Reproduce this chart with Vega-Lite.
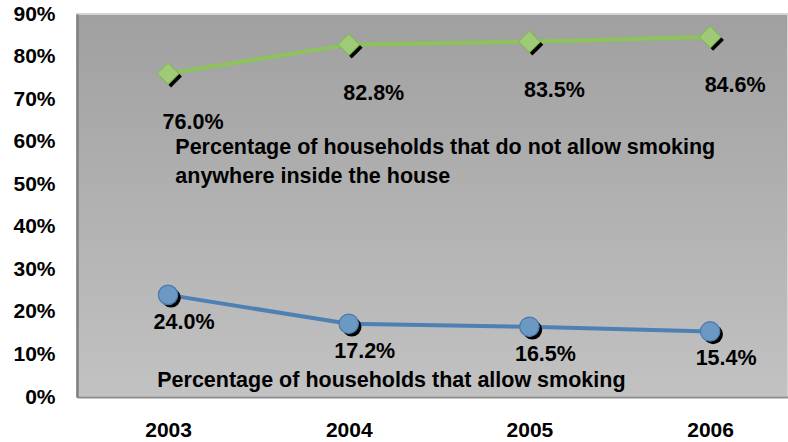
{
  "$schema": "https://vega.github.io/schema/vega-lite/v6.json",
  "width": 711,
  "height": 383,
  "autosize": "none",
  "padding": {"left": 77, "top": 14, "right": 0, "bottom": 45},
  "background": "white",
  "config": {
    "font": "Liberation Sans",
    "view": {
      "stroke": "#d4d4d4",
      "strokeWidth": 2,
      "fill": {"gradient": "linear", "x1": 0, "y1": 0, "x2": 0, "y2": 1, "stops": [{"offset": 0, "color": "#a0a0a0"}, {"offset": 1, "color": "#c2c2c2"}]}
    },
    "axis": {"grid": false, "ticks": false, "labelFont": "Liberation Sans", "labelFontWeight": "bold", "labelFontSize": 21, "labelColor": "black", "title": null}
  },
  "datasets": {
    "series": [
      {"year": 2003, "series": "no", "value": 76.0, "label": "76.0%"},
      {"year": 2004, "series": "no", "value": 82.8, "label": "82.8%"},
      {"year": 2005, "series": "no", "value": 83.5, "label": "83.5%"},
      {"year": 2006, "series": "no", "value": 84.6, "label": "84.6%"},
      {"year": 2003, "series": "allow", "value": 24.0, "label": "24.0%"},
      {"year": 2004, "series": "allow", "value": 17.2, "label": "17.2%"},
      {"year": 2005, "series": "allow", "value": 16.5, "label": "16.5%"},
      {"year": 2006, "series": "allow", "value": 15.4, "label": "15.4%"}
    ],
    "notes": [
      {"year": 2003.04, "value": 58.5, "text": ["Percentage of households that do not allow smoking", "anywhere inside the house"]},
      {"year": 2002.94, "value": 3.76, "text": ["Percentage of households that allow smoking"]}
    ]
  },
  "layer": [
    {
      "data": {"name": "series"},
      "mark": {"type": "line", "strokeWidth": 4},
      "encoding": {
        "x": {"field": "year", "type": "quantitative", "scale": {"domain": [2002.496, 2006.431], "nice": false, "zero": false}, "axis": {"values": [2003, 2004, 2005, 2006], "format": "d", "labelBaseline": "middle", "labelPadding": 33, "domainColor": "#8e8e8e", "domainWidth": 2}},
        "y": {"field": "value", "type": "quantitative", "scale": {"domain": [0, 90], "nice": false}, "axis": {"values": [0, 10, 20, 30, 40, 50, 60, 70, 80, 90], "labelExpr": "datum.value + '%'", "labelPadding": 22, "domainColor": "#808080", "domainWidth": 2.5}},
        "detail": {"field": "series"},
        "color": {"field": "series", "type": "nominal", "scale": {"domain": ["no", "allow"], "range": ["#8dc35a", "#4e80b4"]}, "legend": null}
      }
    },
    {
      "data": {"name": "series"},
      "mark": {"type": "point", "filled": true, "opacity": 1},
      "encoding": {
        "x": {"field": "year", "type": "quantitative"},
        "y": {"field": "value", "type": "quantitative"},
        "xOffset": {"value": 3},
        "yOffset": {"value": 3},
        "shape": {"field": "series", "type": "nominal", "scale": {"domain": ["no", "allow"], "range": ["diamond", "circle"]}, "legend": null},
        "size": {"field": "series", "type": "nominal", "scale": {"domain": ["no", "allow"], "range": [470, 380]}, "legend": null},
        "color": {"value": "black"}
      }
    },
    {
      "data": {"name": "series"},
      "mark": {"type": "point", "filled": true, "opacity": 1, "strokeWidth": 1.2},
      "encoding": {
        "x": {"field": "year", "type": "quantitative"},
        "y": {"field": "value", "type": "quantitative"},
        "shape": {"field": "series", "type": "nominal", "scale": {"domain": ["no", "allow"], "range": ["diamond", "circle"]}, "legend": null},
        "size": {"field": "series", "type": "nominal", "scale": {"domain": ["no", "allow"], "range": [470, 380]}, "legend": null},
        "fill": {"field": "series", "type": "nominal", "scale": {"domain": ["no", "allow"], "range": ["#9fcb78", "#6c98c4"]}, "legend": null},
        "stroke": {"field": "series", "type": "nominal", "scale": {"domain": ["no", "allow"], "range": ["#86b95a", "#4a79ab"]}, "legend": null}
      }
    },
    {
      "data": {"name": "series"},
      "transform": [{"filter": "datum.series === 'no'"}],
      "mark": {"type": "text", "font": "Liberation Sans", "fontWeight": "bold", "fontSize": 21.5, "color": "black", "dx": 25, "dy": 49, "baseline": "middle"},
      "encoding": {
        "x": {"field": "year", "type": "quantitative"},
        "y": {"field": "value", "type": "quantitative"},
        "text": {"field": "label"}
      }
    },
    {
      "data": {"name": "series"},
      "transform": [{"filter": "datum.series === 'allow'"}],
      "mark": {"type": "text", "font": "Liberation Sans", "fontWeight": "bold", "fontSize": 21.5, "color": "black", "dx": 16, "dy": 28, "baseline": "middle"},
      "encoding": {
        "x": {"field": "year", "type": "quantitative"},
        "y": {"field": "value", "type": "quantitative"},
        "text": {"field": "label"}
      }
    },
    {
      "data": {"name": "notes"},
      "mark": {"type": "text", "font": "Liberation Sans", "fontWeight": "bold", "fontSize": 21.5, "color": "black", "align": "left", "baseline": "middle", "lineHeight": 29},
      "encoding": {
        "x": {"field": "year", "type": "quantitative"},
        "y": {"field": "value", "type": "quantitative"},
        "text": {"field": "text"}
      }
    }
  ]
}
